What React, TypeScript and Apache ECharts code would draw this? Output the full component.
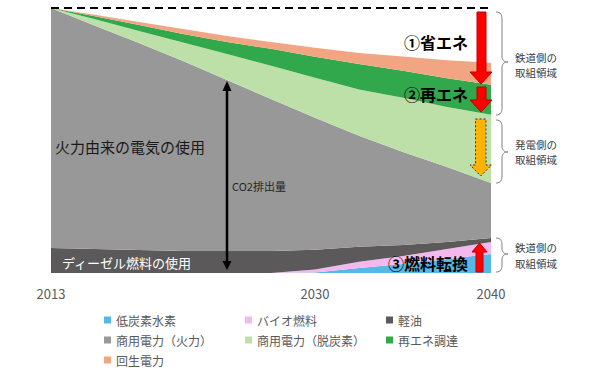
import React, { useEffect, useRef } from "react";
import * as echarts from "echarts";

const years = ["2013", "", "", "", "", "", "2030", "", "", "", "2040"];
const hydrogen = [0, 0, 0, 0, 0, 0, 0.2, 1.9, 3.4, 5.3, 7.2];
const biofuel = [0, 0, 0, 0, 0, 0, 1.1, 2.3, 3.0, 3.8, 4.5];
const diesel = [9.4, 9.1, 8.7, 8.3, 8.3, 8.3, 7.5, 5.7, 4.2, 2.6, 1.5];
const gridFossil = [90.6, 84.2, 78.1, 71.7, 64.5, 57.4, 49.8, 41.9, 35.1, 28.3, 20.8];
const gridClean = [0, 2.5, 4.5, 7.0, 9.8, 12.5, 15.1, 17.4, 20.4, 22.6, 25.7];
const renewable = [0, 1.1, 2.3, 3.2, 4.6, 6.4, 7.9, 9.7, 10.2, 10.9, 11.3];
const regen = [0, 0.6, 1.1, 1.9, 2.2, 2.6, 3.4, 4.1, 5.4, 6.8, 8.3];
const baseline = 100;

const seriesNames = [
  "低炭素水素",
  "バイオ燃料",
  "軽油",
  "商用電力（火力）",
  "商用電力（脱炭素）",
  "再エネ調達",
  "回生電力",
];
const seriesData = [hydrogen, biofuel, diesel, gridFossil, gridClean, renewable, regen];
const seriesColors = ["#55b8e6", "#f3b9ef", "#5b5959", "#989898", "#bde0a9", "#30a84b", "#f2a582"];

const FONT = "'Noto Sans CJK JP', 'Noto Sans', sans-serif";

function braceD(x0: number, y0: number, y1: number, ym: number) {
  return `M${x0},${y0} C${x0 + 5},${y0} ${x0 + 6},${y0 + 3} ${x0 + 6},${y0 + 8} L${x0 + 6},${ym - 6} C${x0 + 6},${ym - 2} ${x0 + 8},${ym} ${x0 + 12},${ym} C${x0 + 8},${ym} ${x0 + 6},${ym + 2} ${x0 + 6},${ym + 6} L${x0 + 6},${y1 - 8} C${x0 + 6},${y1 - 3} ${x0 + 5},${y1} ${x0},${y1}`;
}

echarts.graphic.registerShape("brace1", echarts.graphic.extendPath(braceD(496, 12, 115, 62), {}));
echarts.graphic.registerShape("brace2", echarts.graphic.extendPath(braceD(496, 120, 183, 152), {}));
echarts.graphic.registerShape("brace3", echarts.graphic.extendPath(braceD(496, 238, 272, 254), {}));

function txt(text: string, x: number, y: number, size: number, color: string, bold = false, lineHeight?: number) {
  return {
    type: "text",
    x,
    y,
    z: 100,
    silent: true,
    style: {
      text,
      fill: color,
      fontSize: size,
      fontFamily: FONT,
      fontWeight: bold ? "bold" : "normal",
      lineHeight: lineHeight || size * 1.2,
      textAlign: "left",
      align: "left",
      textVerticalAlign: "middle",
      verticalAlign: "middle",
    },
  };
}

function downArrow(xl: number, xr: number, hl: number, hr: number, yTop: number, yHead: number, yTip: number) {
  const xc = (hl + hr) / 2;
  return [
    [xl, yTop],
    [xr, yTop],
    [xr, yHead],
    [hr, yHead],
    [xc, yTip],
    [hl, yHead],
    [xl, yHead],
  ];
}

export default function App() {
  const ref = useRef<HTMLDivElement>(null);
  useEffect(() => {
    if (!ref.current) return;
    document.body.style.margin = "0";
    const chart = echarts.init(ref.current, null, { renderer: "svg" });
    const series: any[] = seriesNames.map((name, i) => ({
      name,
      type: "line",
      stack: "total",
      data: seriesData[i],
      showSymbol: false,
      symbol: "none",
      lineStyle: { width: 0, color: seriesColors[i] },
      itemStyle: { color: seriesColors[i] },
      areaStyle: { color: seriesColors[i], opacity: 1 },
      silent: true,
      z: 2,
    }));
    series[series.length - 1].markLine = {
      silent: true,
      symbol: "none",
      label: { show: false },
      lineStyle: { color: "#000", type: [8, 5], width: 2 },
      data: [{ yAxis: baseline }],
    };
    const legendBase = {
      orient: "vertical",
      top: 313,
      padding: 0,
      itemWidth: 7,
      itemHeight: 7,
      itemGap: 6,
      icon: "rect",
      selectedMode: false,
      textStyle: { fontSize: 12, color: "#595959", fontFamily: FONT, lineHeight: 14 },
    };
    chart.setOption({
      animation: false,
      grid: { left: 51, right: 99, top: 8, bottom: 99, containLabel: false },
      xAxis: {
        type: "category",
        data: years,
        boundaryGap: false,
        axisLine: { show: false },
        axisTick: { show: false },
        axisLabel: { interval: 0, margin: 14, fontSize: 13, color: "#595959", fontFamily: FONT },
        splitLine: { show: false },
      },
      yAxis: { type: "value", min: 0, max: 100, show: false },
      legend: [
        { ...legendBase, left: 104, data: [seriesNames[0], seriesNames[3], seriesNames[6]] },
        { ...legendBase, left: 245, data: [seriesNames[1], seriesNames[4]] },
        { ...legendBase, left: 386, data: [seriesNames[2], seriesNames[5]] },
      ],
      series,
      graphic: [
        txt("火力由来の電気の使用", 55, 146, 15, "#1a1a1a"),
        txt("ディーゼル燃料の使用", 62, 262, 13, "#ffffff"),
        txt("CO2排出量", 232, 186, 11, "#262626"),
        { type: "line", z: 100, silent: true, shape: { x1: 227, y1: 88, x2: 227, y2: 263 }, style: { stroke: "#000", lineWidth: 2.5 } },
        { type: "polygon", z: 100, silent: true, shape: { points: [[227, 81], [222.5, 91], [231.5, 91]] }, style: { fill: "#000" } },
        { type: "polygon", z: 100, silent: true, shape: { points: [[227, 270], [222.5, 261], [231.5, 261]] }, style: { fill: "#000" } },
        txt("①省エネ", 404, 42, 16, "#000", true),
        txt("②再エネ", 404, 94, 16, "#000", true),
        txt("③燃料転換", 388, 263, 16, "#000", true),
        {
          type: "polygon",
          z: 100,
          silent: true,
          shape: { points: downArrow(477, 486, 470, 492, 12, 72, 84) },
          style: { fill: "#ff0000", stroke: "#c00000", lineWidth: 1 },
        },
        {
          type: "polygon",
          z: 100,
          silent: true,
          shape: { points: downArrow(477, 486, 470, 492, 87, 100, 112) },
          style: { fill: "#ff0000", stroke: "#c00000", lineWidth: 1 },
        },
        {
          type: "polygon",
          z: 100,
          silent: true,
          shape: { points: downArrow(475.5, 486, 470, 491.5, 119, 165, 176) },
          style: { fill: "#ffb300", stroke: "#333", lineWidth: 1, lineDash: [2, 2] },
        },
        {
          type: "polygon",
          z: 100,
          silent: true,
          shape: { points: [[476, 272], [483, 272], [483, 252], [487, 252], [479.5, 243], [472, 252], [476, 252]] },
          style: { fill: "#ff0000", stroke: "#c00000", lineWidth: 1 },
        },
        { type: "brace1", z: 100, silent: true, style: { fill: "none", stroke: "#808080", lineWidth: 1 } },
        { type: "brace2", z: 100, silent: true, style: { fill: "none", stroke: "#808080", lineWidth: 1 } },
        { type: "brace3", z: 100, silent: true, style: { fill: "none", stroke: "#808080", lineWidth: 1 } },
        txt("鉄道側の", 515, 57, 10.5, "#404040", false, 11),
        txt("取組領域", 515, 72.5, 10.5, "#404040", false, 11),
        txt("発電側の", 515, 144, 10.5, "#404040", false, 11),
        txt("取組領域", 515, 159.5, 10.5, "#404040", false, 11),
        txt("鉄道側の", 515, 247.5, 10.5, "#404040", false, 11),
        txt("取組領域", 515, 263, 10.5, "#404040", false, 11),
      ],
    });
    return () => chart.dispose();
  }, []);
  return <div ref={ref} style={{ width: 590, height: 372 }} />;
}
